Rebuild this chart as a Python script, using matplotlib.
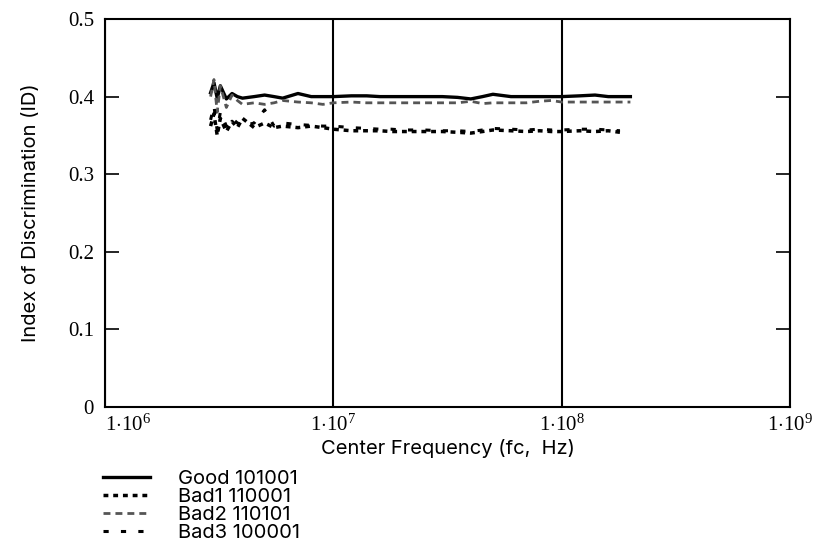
import numpy as np
import matplotlib.pyplot as plt
from matplotlib.ticker import FixedLocator, FuncFormatter

plt.rcParams['font.family'] = ['Inter', 'DejaVu Sans']
plt.rcParams['mathtext.fontset'] = 'custom'
plt.rcParams['mathtext.rm'] = 'Liberation Serif'
plt.rcParams['mathtext.it'] = 'Liberation Serif:italic'

# centre frequencies (Hz)
fc = [2.9e6, 3.0e6, 3.1e6, 3.2e6, 3.4e6, 3.6e6, 3.8e6, 4.0e6, 4.5e6, 5.0e6,
      5.5e6, 6.0e6, 7.0e6, 8.0e6, 9.0e6, 1.0e7, 1.2e7, 1.4e7, 1.6e7, 1.8e7,
      2.0e7, 2.5e7, 3.0e7, 3.5e7, 4.0e7, 4.5e7, 5.0e7, 6.0e7, 7.0e7, 8.0e7,
      9.0e7, 1.0e8, 1.2e8, 1.4e8, 1.6e8, 1.8e8, 2.0e8]

good = [0.405, 0.418, 0.398, 0.414, 0.397, 0.404, 0.400, 0.398, 0.400, 0.402,
        0.400, 0.398, 0.404, 0.400, 0.400, 0.400, 0.401, 0.401, 0.400, 0.400,
        0.400, 0.400, 0.400, 0.399, 0.397, 0.400, 0.403, 0.400, 0.400, 0.400,
        0.400, 0.400, 0.401, 0.402, 0.400, 0.400, 0.400]

bad1 = [0.362, 0.378, 0.350, 0.372, 0.355, 0.368, 0.360, 0.372, 0.360, 0.366,
        0.360, 0.362, 0.360, 0.362, 0.360, 0.358, 0.356, 0.356, 0.356, 0.355,
        0.355, 0.355, 0.355, 0.354, 0.353, 0.355, 0.357, 0.356, 0.355, 0.356,
        0.355, 0.355, 0.356, 0.355, 0.356, 0.354, np.nan]

bad2 = [0.400, 0.422, 0.380, 0.414, 0.386, 0.402, 0.395, 0.390, 0.392, 0.390,
        0.392, 0.395, 0.393, 0.392, 0.390, 0.392, 0.393, 0.392, 0.392, 0.392,
        0.392, 0.392, 0.392, 0.392, 0.394, 0.391, 0.392, 0.392, 0.392, 0.394,
        0.395, 0.393, 0.393, 0.393, 0.393, 0.393, 0.393]

bad3 = [0.370, 0.388, 0.356, 0.380, 0.362, 0.372, 0.366, 0.362, 0.366, 0.383,
        0.362, 0.366, 0.364, 0.363, 0.362, 0.362, 0.360, 0.359, 0.358, 0.358,
        0.357, 0.357, 0.356, 0.356, 0.355, 0.357, 0.359, 0.358, 0.357, 0.358,
        0.357, 0.357, 0.358, 0.358, 0.357, 0.356, np.nan]

labels = ['Good 101001', 'Bad1 110001', 'Bad2 110101', 'Bad3 100001']
y_ticks = [0, 0.1, 0.2, 0.3, 0.4, 0.5]
y_tick_labels = ['0', '0.1', '0.2', '0.3', '0.4', '0.5']
x_ticks = [1e6, 1e7, 1e8, 1e9]

fig = plt.figure(figsize=(8.16, 5.51), dpi=100)
ax = fig.add_axes([0.1287, 0.2613, 0.8394, 0.7042])

l_good, = ax.plot(fc, good, color='black', lw=2.4, solid_joinstyle='round')
l_bad1, = ax.plot(fc, bad1, color='black', lw=2.5, linestyle=(0, (1.4, 1.4)))
l_bad2, = ax.plot(fc, bad2, color='#555555', lw=2.0, linestyle=(0, (2.5, 1.8)))
l_bad3, = ax.plot(fc, bad3, color='black', lw=2.2, linestyle=(0, (1.7, 4.0)))

ax.set_xscale('log')
ax.set_xlim(1e6, 1e9)
ax.set_ylim(0, 0.5)

ax.xaxis.set_major_locator(FixedLocator(x_ticks))
ax.xaxis.set_minor_locator(FixedLocator([]))
ax.xaxis.set_major_formatter(
    FuncFormatter(lambda v, p: r'$1{\cdot}10^{%d}$' % round(np.log10(v))))
ax.yaxis.set_major_locator(FixedLocator(y_ticks))
ax.set_yticklabels(y_tick_labels, family='Liberation Serif', fontsize=15)

ax.grid(True, axis='x', color='black', lw=1.5)
ax.tick_params(axis='x', length=0, labelsize=15, pad=5)
ax.tick_params(axis='y', direction='in', length=10, width=1.2,
               right=True, pad=8)
for s in ax.spines.values():
    s.set_linewidth(1.5)

# first decade label sits just right of the corner, clear of the "0"
ax.xaxis.get_major_ticks()[0].label1.set_horizontalalignment('left')

ax.set_xlabel('Center Frequency (fc,  Hz)', fontsize=14.5, labelpad=3)
ax.set_ylabel('Index of Discrimination (ID)', fontsize=14.5, labelpad=20)

fig.legend([l_good, l_bad1, l_bad2, l_bad3], labels,
           loc='upper left', bbox_to_anchor=(0.126, 0.147),
           frameon=False, fontsize=14.5, handlelength=2.35, handletextpad=1.4,
           labelspacing=0.0, borderpad=0, borderaxespad=0)

fig.savefig('out.png', dpi=100)
